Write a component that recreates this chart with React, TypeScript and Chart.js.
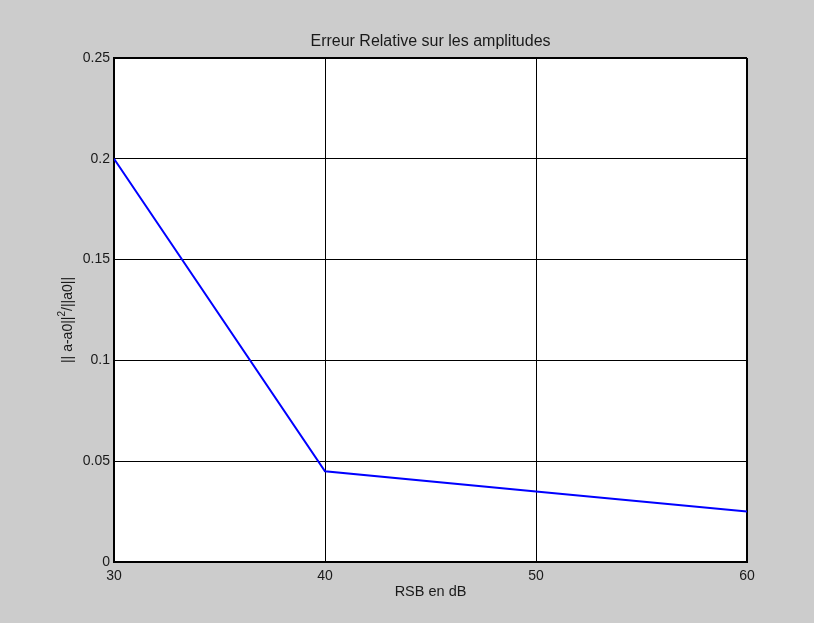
import React, { useEffect, useRef } from "react";
import { Chart, registerables } from "chart.js";

Chart.register(...registerables);

const rsb = [30, 40, 50, 60];
const erreur = [0.2, 0.045, 0.035, 0.025];
const xTicks = [30, 40, 50, 60];
const yTicks = [0, 0.05, 0.1, 0.15, 0.2, 0.25];
const TITLE = "Erreur Relative sur les amplitudes";
const XLABEL = "RSB en dB";
const YLABEL_A = "|| a-a0||";
const YLABEL_SUP = "2";
const YLABEL_B = "/||a0||";

const FONT = '"Liberation Sans", Arial, Helvetica, sans-serif';
const TEXT = "#1a1a1a";

const labelsPlugin = {
  id: "matlabLabels",
  beforeDraw(chart: any) {
    const { ctx, chartArea: a } = chart;
    ctx.save();
    ctx.fillStyle = "#ffffff";
    ctx.fillRect(a.left, a.top, a.right - a.left, a.bottom - a.top);
    ctx.restore();
  },
  afterDraw(chart: any) {
    const { ctx, chartArea: a } = chart;
    ctx.save();
    ctx.fillStyle = TEXT;
    ctx.textAlign = "center";
    ctx.textBaseline = "middle";
    const cx = (a.left + a.right) / 2;
    ctx.font = `16px ${FONT}`;
    ctx.fillText(TITLE, cx, a.top - 16);
    ctx.font = `14.5px ${FONT}`;
    ctx.fillText(XLABEL, cx, a.bottom + 30);
    // y label with superscript
    ctx.translate(a.left - 46, (a.top + a.bottom) / 2 + 10);
    ctx.rotate(-Math.PI / 2);
    ctx.textAlign = "left";
    ctx.font = `14px ${FONT}`;
    const w1 = ctx.measureText(YLABEL_A).width;
    const w3 = ctx.measureText(YLABEL_B).width;
    ctx.font = `10px ${FONT}`;
    const w2 = ctx.measureText(YLABEL_SUP).width;
    let x = -(w1 + w2 + w3) / 2;
    ctx.font = `14px ${FONT}`;
    ctx.fillText(YLABEL_A, x, 0);
    x += w1;
    ctx.font = `10px ${FONT}`;
    ctx.fillText(YLABEL_SUP, x, -6);
    x += w2;
    ctx.font = `14px ${FONT}`;
    ctx.fillText(YLABEL_B, x, 0);
    ctx.restore();
  },
};

const fmt = (v: number) => String(Number(Number(v).toFixed(2)));

export default function App() {
  const ref = useRef<HTMLCanvasElement | null>(null);
  useEffect(() => {
    if (!ref.current) return;
    const chart = new Chart(ref.current, {
      type: "line",
      data: {
        datasets: [
          {
            data: rsb.map((x, i) => ({ x, y: erreur[i] })),
            borderColor: "#0000ff",
            borderWidth: 2,
            pointRadius: 0,
            fill: false,
            tension: 0,
          },
        ],
      },
      options: {
        animation: false,
        responsive: false,
        layout: { padding: { top: 58, right: 67, left: 0, bottom: 0 } },
        plugins: {
          legend: { display: false },
          tooltip: { enabled: false },
          title: { display: false },
        },
        scales: {
          x: {
            type: "linear",
            min: xTicks[0],
            max: xTicks[xTicks.length - 1],
            afterFit: (s: any) => {
              s.height = 61;
            },
            afterBuildTicks: (s: any) => {
              s.ticks = xTicks.map((v) => ({ value: v }));
            },
            ticks: {
              padding: 6,
              color: TEXT,
              font: { family: FONT, size: 14 },
              callback: (v: any) => fmt(v),
              maxRotation: 0,
            },
            grid: {
              color: "#000000",
              lineWidth: (c: any) => (c.index === xTicks.length - 1 ? 2 : 1),
              drawTicks: false,
            },
            border: { color: "#000000", width: 2 },
          },
          y: {
            type: "linear",
            min: yTicks[0],
            max: yTicks[yTicks.length - 1],
            afterFit: (s: any) => {
              s.width = 114;
            },
            afterBuildTicks: (s: any) => {
              s.ticks = yTicks.map((v) => ({ value: v }));
            },
            ticks: {
              padding: 4,
              color: TEXT,
              font: { family: FONT, size: 14 },
              callback: (v: any) => fmt(v),
            },
            grid: {
              color: "#000000",
              lineWidth: (c: any) => (c.index === yTicks.length - 1 ? 2 : 1),
              drawTicks: false,
            },
            border: { color: "#000000", width: 2 },
          },
        },
      },
      plugins: [labelsPlugin],
    });
    return () => chart.destroy();
  }, []);
  return (
    <div
      style={{
        position: "fixed",
        left: 0,
        top: 0,
        width: 814,
        height: 623,
        background: "#cccccc",
      }}
    >
      <canvas ref={ref} width={814} height={623} style={{ display: "block" }} />
    </div>
  );
}
